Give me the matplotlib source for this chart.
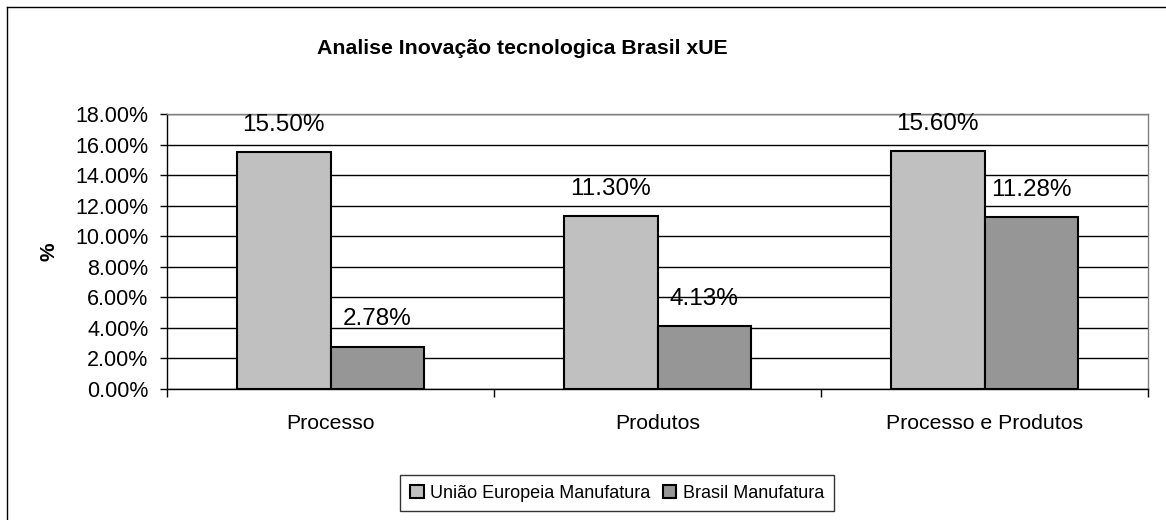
import matplotlib
matplotlib.use("Agg")
import matplotlib.pyplot as plt
from matplotlib.lines import Line2D
import numpy as np

plt.rcParams['font.family'] = ['Liberation Sans', 'DejaVu Sans']

categories = ['Processo', 'Produtos', 'Processo e Produtos']
ue_values = [15.50, 11.30, 15.60]
br_values = [2.78, 4.13, 11.28]
series_names = ['União Europeia Manufatura', 'Brasil Manufatura']
y_ticks = [0, 2, 4, 6, 8, 10, 12, 14, 16, 18]

W, H = 1166, 520
fig = plt.figure(figsize=(W / 100, H / 100), dpi=100)
ax = fig.add_axes([167 / W, 1 - 389 / H, (1148 - 167) / W, (389 - 114) / H])

x = np.arange(len(categories))
bw = 1 / 3.5
b1 = ax.bar(x - bw / 2, ue_values, bw, color='#C0C0C0', edgecolor='black',
            linewidth=1.5, label=series_names[0], zorder=3)
b2 = ax.bar(x + bw / 2, br_values, bw, color='#969696', edgecolor='black',
            linewidth=1.5, label=series_names[1], zorder=3)

for bars, vals in ((b1, ue_values), (b2, br_values)):
    for rect, v in zip(bars, vals):
        ax.annotate(f'{v:.2f}%', (rect.get_x() + rect.get_width() / 2, v),
                    xytext=(0, 19.5), textcoords='offset points',
                    ha='center', va='center', fontsize=17.5)

ax.set_xlim(-0.5, 2.5)
ax.set_ylim(0, 18)
ax.set_yticks(y_ticks)
ax.set_yticklabels([f'{t:.2f}%' for t in y_ticks], fontsize=15.5)
ax.tick_params(axis='y', length=5, width=1, pad=8.5)
ax.yaxis.grid(True, color='black', linewidth=1, zorder=0)
ax.set_axisbelow(True)

ax.set_xticks(x)
ax.set_xticklabels(categories, fontsize=15.3)
ax.set_xticks([-0.5, 0.5, 1.5, 2.5], minor=True)
ax.tick_params(axis='x', which='major', length=0, pad=18)
ax.tick_params(axis='x', which='minor', length=6, width=1)

for s in ('top', 'right'):
    ax.spines[s].set_color('#808080')
    ax.spines[s].set_linewidth(1)
for s in ('left', 'bottom'):
    ax.spines[s].set_color('black')
    ax.spines[s].set_linewidth(1)

ax.set_ylabel('%', fontsize=15, fontweight='bold', labelpad=12)

fig.text(522 / W, 1 - 48 / H, 'Analise Inovação tecnologica Brasil xUE',
         ha='center', va='center', fontsize=15.3, fontweight='bold')

leg = fig.legend(handles=[b1, b2], labels=series_names, loc='center',
                 bbox_to_anchor=(617 / W, 1 - 493 / H), ncol=2, fontsize=13,
                 fancybox=False, frameon=True, handlelength=0.75, handleheight=0.75,
                 handletextpad=0.35, columnspacing=0.7, borderpad=0.55)
leg.get_frame().set_edgecolor('black')
leg.get_frame().set_linewidth(1)

fig.add_artist(Line2D([7 / W, 7 / W], [0, 1 - 7 / H], transform=fig.transFigure,
                      color='black', linewidth=1))
fig.add_artist(Line2D([7 / W, 1], [1 - 7 / H, 1 - 7 / H], transform=fig.transFigure,
                      color='black', linewidth=1))

fig.savefig('out.png', dpi=100)
